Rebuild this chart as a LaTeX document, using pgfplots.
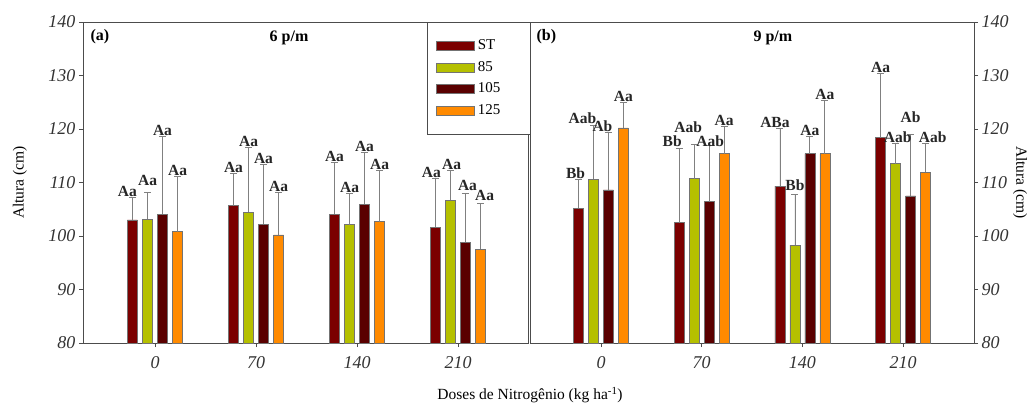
\documentclass[border=0pt]{standalone}
\usepackage{fontspec}
\setmainfont{Liberation Serif}
\usepackage{pgfplots}
\pgfplotsset{compat=1.18}
\usepackage{pgfplotstable}

\definecolor{cST}{HTML}{7B0000}
\definecolor{c85}{HTML}{B5C000}
\definecolor{c105}{HTML}{5A0000}
\definecolor{c125}{HTML}{FF8A00}

% 6 p/m  (x: dose index, y: mean, top: mean + error, ly/lx: letter position)
\pgfplotstableread{
x y top ly lx lab
0 103.0 107.2 107.2 -0.05 Aa
1 105.7 111.7 111.7 0 Aa
2 104.1 113.7 113.7 0 Aa
3 101.6 110.8 110.8 -0.04 Aa
}\aST
\pgfplotstableread{
x y top ly lx lab
0 103.1 108.2 109.3 0 Aa
1 104.4 116.5 116.5 0 Aa
2 102.1 108.0 108.0 0 Aa
3 106.7 112.3 112.3 0.01 Aa
}\aNa
\pgfplotstableread{
x y top ly lx lab
0 104.1 118.6 118.6 0 Aa
1 102.2 113.3 113.3 0 Aa
2 105.9 115.6 115.6 0 Aa
3 98.8 108.0 108.3 0.02 Aa
}\aNb
\pgfplotstableread{
x y top ly lx lab
0 100.8 111.2 111.2 0 Aa
1 100.2 108.2 108.2 0 Aa
2 102.7 112.2 112.2 0 Aa
3 97.5 106.1 106.4 0.04 Aa
}\aNc
% 9 p/m
\pgfplotstableread{
x y top ly lx lab
0 105.2 110.6 110.6 -0.03 Bb
1 102.5 116.4 116.6 -0.07 Bb
2 109.3 120.2 120.2 -0.05 ABa
3 118.4 130.4 130.4 0 Aa
}\bST
\pgfplotstableread{
x y top ly lx lab
0 110.6 120.6 120.9 -0.11 Aab
1 110.7 117.1 119.2 -0.06 Aab
2 98.3 107.7 108.4 0 Bb
3 113.5 117.3 117.3 0.02 Aab
}\bNa
\pgfplotstableread{
x y top ly lx lab
0 108.6 119.3 119.3 -0.06 Ab
1 106.4 117.0 116.5 0.01 Aab
2 115.4 118.7 118.7 0 Aa
3 107.5 119.0 121.1 0 Ab
}\bNb
\pgfplotstableread{
x y top ly lx lab
0 120.2 124.9 124.9 0 Aa
1 115.4 120.5 120.5 0 Aa
2 115.4 125.4 125.4 0 Aa
3 111.9 117.3 117.3 0.07 Aab
}\bNc

\pgfplotsset{
  panel/.style={
    scale only axis, height=321bp,
    ymin=80, ymax=140, ytick={80,90,...,140},
    xtick={0,1,2,3}, xticklabels={0,70,140,210},
    xtick pos=left, tick align=outside,
    major tick length=4bp,
    axis line style={black!70, line width=0.8bp},
    every tick/.style={black!70, line width=0.8bp},
    /pgf/number format/assume math mode=true,
    ticklabel style={font=\fontsize{18bp}{18bp}\selectfont\itshape, text=black!80},
    xticklabel style={yshift=-6bp},
    label style={font=\fontsize{15.5bp}{16bp}\selectfont},
    clip=false,
  },
  mybar/.style={ybar, bar width=0.099, bar shift=0, draw=black!55, line width=0.6bp,
    legend image code/.code={\draw[##1] (0bp,-4.5bp) rectangle (38bp,4.5bp);},
    error bars/y dir=plus, error bars/y explicit,
    error bars/error mark=-,
    error bars/error bar style={black!50, line width=0.8bp},
    error bars/error mark options={rotate=90, black!50, line width=0.8bp, mark size=3.5bp}},
  mylab/.style={forget plot, only marks, mark=none, nodes near coords,
    point meta=explicit symbolic,
    nodes near coords style={anchor=south, inner sep=0.5bp,
      font=\fontsize{15.5bp}{16bp}\selectfont\bfseries, text=black!85}},
}

\begin{document}
\begin{tikzpicture}[x=1bp,y=1bp]
\useasboundingbox (0,0) rectangle (1036,405);
\begin{axis}[panel, at={(83bp,62bp)}, anchor=south west, width=445bp,
  xmin=-0.713, xmax=3.693, ytick pos=left,
  ylabel={Altura (cm)},
  ylabel style={at={(axis description cs:-0.1416,0.5)}, anchor=center},
  xlabel={Doses de Nitrogênio (kg ha\textsuperscript{-1})},
  xlabel style={at={(axis description cs:1.0045,-0.162)}, anchor=center},
  legend style={at={(1,1)}, anchor=north east, xshift=2bp, draw=black!70, fill=white,
    font=\fontsize{15bp}{15bp}\selectfont, inner xsep=9bp, inner ysep=13bp,
    nodes={inner ysep=3.75bp, inner xsep=3bp, text height=11bp, text depth=3bp, text width=40bp}},
  legend cell align=left,
]
\addplot[mybar, fill=cST] table[x expr=\thisrow{x}-0.223, y=y, y error expr=\thisrow{top}-\thisrow{y}] {\aST};
\addplot[mybar, fill=c85] table[x expr=\thisrow{x}-0.074, y=y, y error expr=\thisrow{top}-\thisrow{y}] {\aNa};
\addplot[mybar, fill=c105] table[x expr=\thisrow{x}+0.074, y=y, y error expr=\thisrow{top}-\thisrow{y}] {\aNb};
\addplot[mybar, fill=c125] table[x expr=\thisrow{x}+0.223, y=y, y error expr=\thisrow{top}-\thisrow{y}] {\aNc};
\legend{ST,85,105,125}
\addplot[mylab] table[x expr=\thisrow{x}-0.223+\thisrow{lx}, y=ly, meta=lab] {\aST};
\addplot[mylab] table[x expr=\thisrow{x}-0.074+\thisrow{lx}, y=ly, meta=lab] {\aNa};
\addplot[mylab] table[x expr=\thisrow{x}+0.074+\thisrow{lx}, y=ly, meta=lab] {\aNb};
\addplot[mylab] table[x expr=\thisrow{x}+0.223+\thisrow{lx}, y=ly, meta=lab] {\aNc};
\node[anchor=west, font=\fontsize{16bp}{16bp}\selectfont\bfseries] at (rel axis cs:0.009,0.953) {(a)};
\node[font=\fontsize{16bp}{16bp}\selectfont\bfseries] at (rel axis cs:0.463,0.95) {6 p/m};
\end{axis}
\begin{axis}[panel, at={(530bp,62bp)}, anchor=south west, width=444bp,
  xmin=-0.705, xmax=3.704, ytick pos=right, yticklabel pos=right,
  ylabel={Altura (cm)},
  ylabel style={at={(axis description cs:1.1036,0.5)}, anchor=center, rotate=180},
]
\addplot[mybar, fill=cST] table[x expr=\thisrow{x}-0.223, y=y, y error expr=\thisrow{top}-\thisrow{y}] {\bST};
\addplot[mybar, fill=c85] table[x expr=\thisrow{x}-0.074, y=y, y error expr=\thisrow{top}-\thisrow{y}] {\bNa};
\addplot[mybar, fill=c105] table[x expr=\thisrow{x}+0.074, y=y, y error expr=\thisrow{top}-\thisrow{y}] {\bNb};
\addplot[mybar, fill=c125] table[x expr=\thisrow{x}+0.223, y=y, y error expr=\thisrow{top}-\thisrow{y}] {\bNc};
\addplot[mylab] table[x expr=\thisrow{x}-0.223+\thisrow{lx}, y=ly, meta=lab] {\bST};
\addplot[mylab] table[x expr=\thisrow{x}-0.074+\thisrow{lx}, y=ly, meta=lab] {\bNa};
\addplot[mylab] table[x expr=\thisrow{x}+0.074+\thisrow{lx}, y=ly, meta=lab] {\bNb};
\addplot[mylab] table[x expr=\thisrow{x}+0.223+\thisrow{lx}, y=ly, meta=lab] {\bNc};
\node[anchor=west, font=\fontsize{16bp}{16bp}\selectfont\bfseries] at (rel axis cs:0.007,0.953) {(b)};
\node[font=\fontsize{16bp}{16bp}\selectfont\bfseries] at (rel axis cs:0.547,0.95) {9 p/m};
\end{axis}
\end{tikzpicture}
\end{document}
